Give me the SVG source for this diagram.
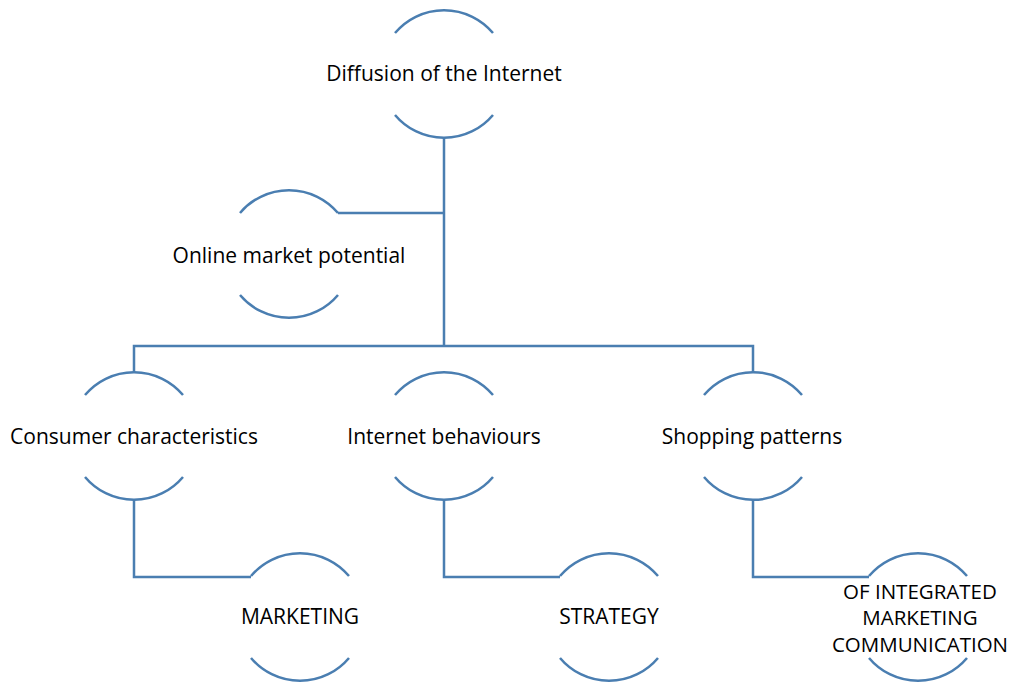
<svg xmlns="http://www.w3.org/2000/svg" width="1011" height="684" viewBox="0 0 1011 684">
<style>
.arc{fill:none;stroke:#4a7eb1;stroke-width:2.5}
.con{fill:none;stroke:#4a7eb1;stroke-width:2.5}
text{font-family:"Open Sans","Liberation Sans",sans-serif;font-size:21px;fill:#000;text-anchor:middle}
.sm{font-size:20.5px}
</style>
<rect width="1011" height="684" fill="#fff"/>
<g id="connectors">
<path class="con" d="M444,138 V346 M338,213 H444 M134,372 V346 H753 V372"/>
<path class="con" d="M134,500 V577 H251 M444,500 V577 H560 M753,500 V577 H869"/>
</g>
<g id="n1"><path class="arc" d="M395,33 A64,64 0 0 1 493,33 M395,115 A64,64 0 0 0 493,115"/><text x="444" y="81">Diffusion of the Internet</text></g>
<g id="n2"><path class="arc" d="M240,213 A64,64 0 0 1 338,213 M240,295 A64,64 0 0 0 338,295"/><text x="289" y="263">Online market potential</text></g>
<g id="n3"><path class="arc" d="M85,395 A64,64 0 0 1 183,395 M85,477 A64,64 0 0 0 183,477"/><text x="134" y="444">Consumer characteristics</text></g>
<g id="n4"><path class="arc" d="M395,395 A64,64 0 0 1 493,395 M395,477 A64,64 0 0 0 493,477"/><text x="444" y="444">Internet behaviours</text></g>
<g id="n5"><path class="arc" d="M704,395 A64,64 0 0 1 802,395 M704,477 A64,64 0 0 0 802,477"/><text x="752" y="444">Shopping patterns</text></g>
<g id="n6"><path class="arc" d="M251,576 A64,64 0 0 1 349,576 M251,658 A64,64 0 0 0 349,658"/><text x="300" y="624">MARKETING</text></g>
<g id="n7"><path class="arc" d="M560,576 A64,64 0 0 1 658,576 M560,658 A64,64 0 0 0 658,658"/><text x="609" y="624">STRATEGY</text></g>
<g id="n8"><path class="arc" d="M869,576 A64,64 0 0 1 967,576 M869,658 A64,64 0 0 0 967,658"/><text class="sm" x="920" y="599">OF INTEGRATED</text><text class="sm" x="920" y="625">MARKETING</text><text class="sm" x="920" y="652">COMMUNICATION</text></g>
</svg>
